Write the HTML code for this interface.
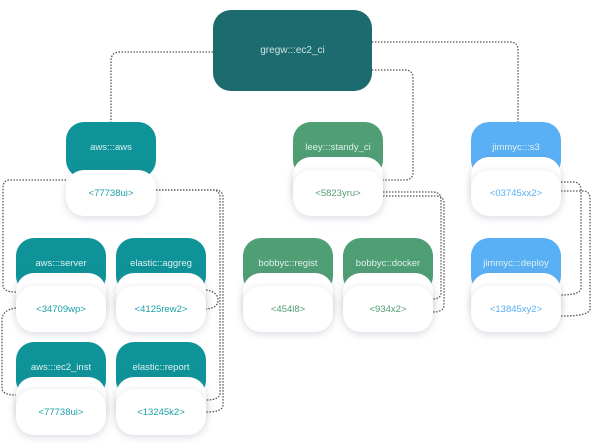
<!DOCTYPE html>
<html><head><meta charset="utf-8"><style>
body{margin:0;width:592px;height:446px;background:#fff;position:relative;overflow:hidden;font-family:"Liberation Sans",sans-serif;}
.b{position:absolute;border-radius:18px;display:flex;align-items:center;justify-content:center;font-size:9.5px;box-sizing:border-box;}
.h{color:#dff0f0;align-items:flex-start;padding-top:20px;}
.c{background:#fff;box-shadow:0 2px 8px rgba(120,120,150,0.28);}
svg{position:absolute;left:0;top:0;}
</style></head><body>
<svg width="592" height="446" fill="none" stroke="#555" stroke-width="1.3" stroke-dasharray="1.5 1.5">
<path d="M213 52 H120 Q111 52 111 61 V122"/>
<path d="M372 42 H510 Q518 42 518 50 V122"/>
<path d="M372 70 H405 Q413 70 413 78 V172 Q413 180 405 180 H383"/>
<path d="M66 180 H10 Q3 180 3 188 V285 Q3 292 16 292"/>
<path d="M156 190 H212 Q220 190 220 198 V393 Q220 400 206 400"/>
<path d="M156 190 H215 Q223 190 223 198 V405 Q223 412 206 412"/>
<path d="M16 308 Q2 310 2 320 V388 Q2 395 16 395"/>
<path d="M206 290 Q218 292 218 300 Q218 308 206 309"/>
<path d="M383 192 H433 Q441 192 441 200 V292 Q441 299 433 299"/>
<path d="M383 196 H436 Q444 196 444 204 V305 Q444 312 433 312"/>
<path d="M561 182 H573 Q581 182 581 190 V288 Q581 295 561 295"/>
<path d="M561 191 H583 Q590 191 590 199 V309 Q590 316 561 316"/>
</svg>
<div class="b" style="left:213px;top:10px;width:159px;height:81px;background:#1c6b6f;color:#cfe3e3;font-size:10px;">gregw:::ec2_ci</div>

<div class="b h" style="left:66px;top:122px;width:90px;height:56px;background:#0e9399;">aws:::aws</div>
<div class="b c" style="left:66px;top:170px;width:90px;height:46px;color:#1aa0a6;">&lt;77738ui&gt;</div>

<div class="b h" style="left:16px;top:238px;width:90px;height:56px;background:#0e9399;">aws:::server</div>
<div class="b c" style="left:16px;top:273px;width:90px;height:46px;"></div>
<div class="b c" style="left:16px;top:286px;width:90px;height:46px;color:#1aa0a6;">&lt;34709wp&gt;</div>
<div class="b h" style="left:116px;top:238px;width:90px;height:56px;background:#0e9399;">elastic::aggreg</div>
<div class="b c" style="left:116px;top:273px;width:90px;height:46px;"></div>
<div class="b c" style="left:116px;top:286px;width:90px;height:46px;color:#1aa0a6;">&lt;4125rew2&gt;</div>

<div class="b h" style="left:16px;top:342px;width:90px;height:56px;background:#0e9399;">aws:::ec2_inst</div>
<div class="b c" style="left:16px;top:377px;width:90px;height:46px;"></div>
<div class="b c" style="left:16px;top:389px;width:90px;height:46px;color:#1aa0a6;">&lt;77738ui&gt;</div>
<div class="b h" style="left:116px;top:342px;width:90px;height:56px;background:#0e9399;">elastic::report</div>
<div class="b c" style="left:116px;top:377px;width:90px;height:46px;"></div>
<div class="b c" style="left:116px;top:389px;width:90px;height:46px;color:#1aa0a6;">&lt;13245k2&gt;</div>

<div class="b h" style="left:293px;top:122px;width:90px;height:56px;background:#4f9e74;">leey:::standy_ci</div>
<div class="b c" style="left:293px;top:157px;width:90px;height:46px;"></div>
<div class="b c" style="left:293px;top:170px;width:90px;height:46px;color:#4f9e74;">&lt;5823yru&gt;</div>

<div class="b h" style="left:243px;top:238px;width:90px;height:56px;background:#4f9e74;">bobbyc::regist</div>
<div class="b c" style="left:243px;top:273px;width:90px;height:46px;"></div>
<div class="b c" style="left:243px;top:286px;width:90px;height:46px;color:#4f9e74;">&lt;454l8&gt;</div>
<div class="b h" style="left:343px;top:238px;width:90px;height:56px;background:#4f9e74;">bobbyc::docker</div>
<div class="b c" style="left:343px;top:273px;width:90px;height:46px;"></div>
<div class="b c" style="left:343px;top:286px;width:90px;height:46px;color:#4f9e74;">&lt;934x2&gt;</div>

<div class="b h" style="left:471px;top:122px;width:90px;height:56px;background:#5ab0f5;">jimmyc:::s3</div>
<div class="b c" style="left:471px;top:157px;width:90px;height:46px;"></div>
<div class="b c" style="left:471px;top:170px;width:90px;height:46px;color:#5ab0f5;">&lt;03745xx2&gt;</div>

<div class="b h" style="left:471px;top:238px;width:90px;height:56px;background:#5ab0f5;">jimmyc:::deploy</div>
<div class="b c" style="left:471px;top:273px;width:90px;height:46px;"></div>
<div class="b c" style="left:471px;top:286px;width:90px;height:46px;color:#5ab0f5;">&lt;13845xy2&gt;</div>
</body></html>
